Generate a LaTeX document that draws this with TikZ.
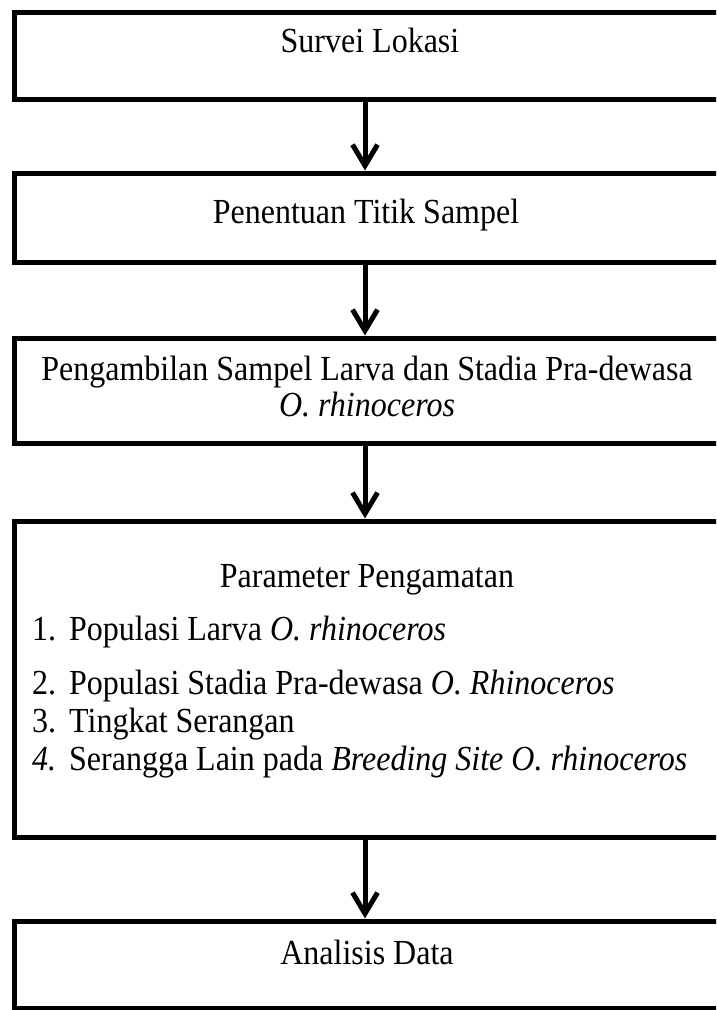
\documentclass[tikz,border=0pt]{standalone}
\usepackage{fontspec}
\setmainfont{Liberation Serif}
\usetikzlibrary{arrows.meta}
\newcommand{\tall}[1]{\scalebox{1}[1.1]{#1}}
\tikzset{
  flowbox/.style={draw=black, line width=5pt, rectangle, minimum width=726pt, inner sep=0pt},
  txt/.style={font=\fontsize{32}{36}\selectfont, inner sep=0pt, anchor=base},
  itm/.style={font=\fontsize{32}{36}\selectfont, inner sep=0pt, anchor=base west},
  flowarrow/.style={line width=5pt, -{Straight Barb[length=21pt,width=25pt]}}
}
\begin{document}
\begin{tikzpicture}[x=1pt,y=-1pt]
\useasboundingbox (0,0) rectangle (716,1010);
\clip (0,0) rectangle (716,1010);
% boxes
\node[flowbox, minimum height=87pt] (b1) at (377,55.5) {};
\node[flowbox, minimum height=89pt] (b2) at (377,217.5) {};
\node[flowbox, minimum height=105pt] (b3) at (377,390.5) {};
\node[flowbox, minimum height=316pt] (b4) at (377,679) {};
\node[flowbox, minimum height=87pt] (b5) at (377,964.5) {};
% arrow axis
\coordinate (ax) at (365,0);
% texts
\node[txt] (t1) at (370,52) {\tall{Survei Lokasi}};
\node[txt] (t2) at (366,223) {\tall{Penentuan Titik Sampel}};
\node[txt] (t3a) at (367,380) {\tall{Pengambilan Sampel Larva dan Stadia Pra-dewasa}};
\node[txt] (t3b) at (367,416) {\tall{\itshape O. rhinoceros}};
\node[txt] (t4) at (367,587) {\tall{Parameter Pengamatan}};
\node[itm] (i1) at (32,640) {\tall{\makebox[37pt][l]{1.}Populasi Larva \textit{O. rhinoceros}}};
\node[itm] (i2) at (32,694) {\tall{\makebox[37pt][l]{2.}Populasi Stadia Pra-dewasa \textit{O. Rhinoceros}}};
\node[itm] (i3) at (32,732) {\tall{\makebox[37pt][l]{3.}Tingkat Serangan}};
\node[itm] (i4) at (32,770) {\tall{\makebox[37pt][l]{\textit{4.}}Serangga Lain pada \textit{Breeding Site O. rhinoceros}}};
\node[txt] (t5) at (367,964) {\tall{Analisis Data}};
% arrows
\draw[flowarrow] (b1.south -| ax) -- (b2.north -| ax);
\draw[flowarrow] (b2.south -| ax) -- (b3.north -| ax);
\draw[flowarrow] (b3.south -| ax) -- (b4.north -| ax);
\draw[flowarrow] (b4.south -| ax) -- (b5.north -| ax);
\end{tikzpicture}
\end{document}
